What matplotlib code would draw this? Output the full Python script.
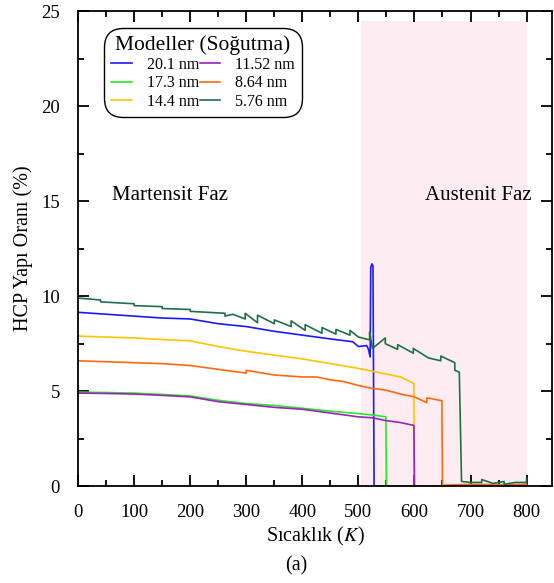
import matplotlib
matplotlib.use('Agg')
import matplotlib.pyplot as plt
from matplotlib.ticker import MultipleLocator

plt.rcParams['font.family'] = ['Liberation Serif', 'DejaVu Serif']
plt.rcParams['mathtext.fontset'] = 'stix'

# 20.1 nm (blue)
x_201 = [0, 50, 100, 150, 200, 250, 300, 350, 400, 450, 490, 500, 515, 518, 521, 522, 524, 526, 528, 600, 700, 800]
y_201 = [9.15, 9.05, 8.95, 8.85, 8.8, 8.55, 8.4, 8.15, 7.95, 7.75, 7.6, 7.35, 7.4, 7.2, 6.8, 11.5, 11.7, 11.6, 0, 0, 0, 0]
# 17.3 nm (green)
x_173 = [0, 50, 100, 150, 200, 250, 300, 350, 400, 450, 500, 525, 549, 550, 600, 700, 800]
y_173 = [4.95, 4.93, 4.9, 4.83, 4.75, 4.52, 4.35, 4.25, 4.1, 3.95, 3.82, 3.75, 3.65, 0, 0, 0, 0]
# 14.4 nm (yellow)
x_144 = [0, 50, 100, 150, 200, 250, 300, 350, 400, 450, 500, 550, 575, 599, 600, 700, 800]
y_144 = [7.9, 7.85, 7.8, 7.72, 7.65, 7.35, 7.1, 6.9, 6.7, 6.45, 6.2, 5.9, 5.75, 5.4, 0, 0, 0]
# 11.52 nm (purple)
x_1152 = [0, 50, 100, 150, 200, 250, 300, 350, 400, 450, 500, 525, 550, 575, 599, 600, 700, 800]
y_1152 = [4.9, 4.88, 4.85, 4.78, 4.7, 4.45, 4.3, 4.15, 4.05, 3.85, 3.65, 3.6, 3.45, 3.35, 3.2, 0, 0, 0]
# 8.64 nm (orange)
x_864 = [0, 50, 100, 150, 200, 250, 300, 300, 350, 400, 425, 450, 475, 500, 525, 550, 575, 600, 622, 622, 649, 650, 700, 750, 800]
y_864 = [6.6, 6.55, 6.5, 6.45, 6.35, 6.15, 5.95, 6.1, 5.85, 5.75, 5.75, 5.6, 5.5, 5.3, 5.15, 5.05, 4.85, 4.7, 4.4, 4.65, 4.5, 0.05, 0.1, 0.08, 0.1]
# 5.76 nm (dark green), with the small sawtooth steps of the plot
x_576 = [0, 40, 40, 100, 100, 150, 150, 200, 200, 262, 262, 276, 298, 298, 320, 320, 350, 350, 380, 380, 405, 405,
         435, 435, 460, 460, 485, 485, 500, 520, 520, 525, 548, 548, 570, 570, 598, 598, 625, 647, 647, 672, 672,
         680, 684, 700, 720, 720, 740, 760, 760, 780, 800, 800]
y_576 = [9.9, 9.8, 9.7, 9.6, 9.5, 9.45, 9.35, 9.3, 9.2, 9.1, 8.95, 9.05, 8.8, 9.1, 8.6, 9.0, 8.55, 8.75, 8.4, 8.7, 8.2, 8.5,
         8.05, 8.35, 8.0, 8.25, 7.95, 8.2, 7.85, 7.7, 8.1, 7.25, 7.8, 7.5, 7.2, 7.45, 7.0, 7.25, 6.75, 6.6, 6.85, 6.5, 6.1,
         6.0, 0.25, 0.2, 0.2, 0.35, 0.15, 0.25, 0.1, 0.2, 0.2, 0.4]

labels = ['20.1 nm', '17.3 nm', '14.4 nm', '11.52 nm', '8.64 nm', '5.76 nm']
colors = ['#1a1aff', '#22ee22', '#ffc400', '#a01fc0', '#ff6a10', '#1e7046']

fig = plt.figure(figsize=(5.54, 5.83), dpi=100)
ax = fig.add_axes([0.141, 0.166, 0.855, 0.815])

ax.axvspan(505, 800, ymin=0, ymax=24.5 / 25, color='#fdedf3', lw=0, zorder=0)

series = [(x_201, y_201), (x_173, y_173), (x_144, y_144), (x_1152, y_1152), (x_864, y_864), (x_576, y_576)]
for (xs, ys), lab, col in zip(series, labels, colors):
    ax.plot(xs, ys, color=col, lw=1.2, label=lab)

ax.text(164, 15.3, 'Martensit Faz', fontsize=15, ha='center', va='center')
ax.text(714, 15.3, 'Austenit Faz', fontsize=15, ha='center', va='center')

ax.set_xlim(0, 845)
ax.set_ylim(0, 25)
ax.xaxis.set_major_locator(MultipleLocator(100))
ax.xaxis.set_minor_locator(MultipleLocator(50))
ax.yaxis.set_major_locator(MultipleLocator(5))
ax.yaxis.set_minor_locator(MultipleLocator(2.5))
ax.tick_params(which='both', direction='in', top=True, right=True, labelsize=13.5, width=1.3)
ax.tick_params(which='major', length=8, pad=13)
ax.tick_params(which='minor', length=4)
for sp in ax.spines.values():
    sp.set_linewidth(1.3)

ax.set_xlabel('Sıcaklık ($K$)', fontsize=14.5, labelpad=3)
ax.set_ylabel('HCP Yapı Oranı (%)', fontsize=14.5, labelpad=6)

leg = ax.legend(loc='upper left', bbox_to_anchor=(0.045, 0.975), ncol=2, fontsize=11.5,
                title='Modeller (Soğutma)', title_fontsize=15.5, handlelength=1.3,
                handletextpad=0.9, columnspacing=0.05, labelspacing=0.15,
                borderpad=0.25, fancybox=True, framealpha=1, edgecolor='black')
leg.get_frame().set_linewidth(1.0)
leg.get_frame().set_boxstyle('round', pad=0.2, rounding_size=1.2)

fig.text(0.535, 0.03, '(a)', fontsize=14.5, ha='center', va='center')

plt.savefig('out.png', dpi=100)
